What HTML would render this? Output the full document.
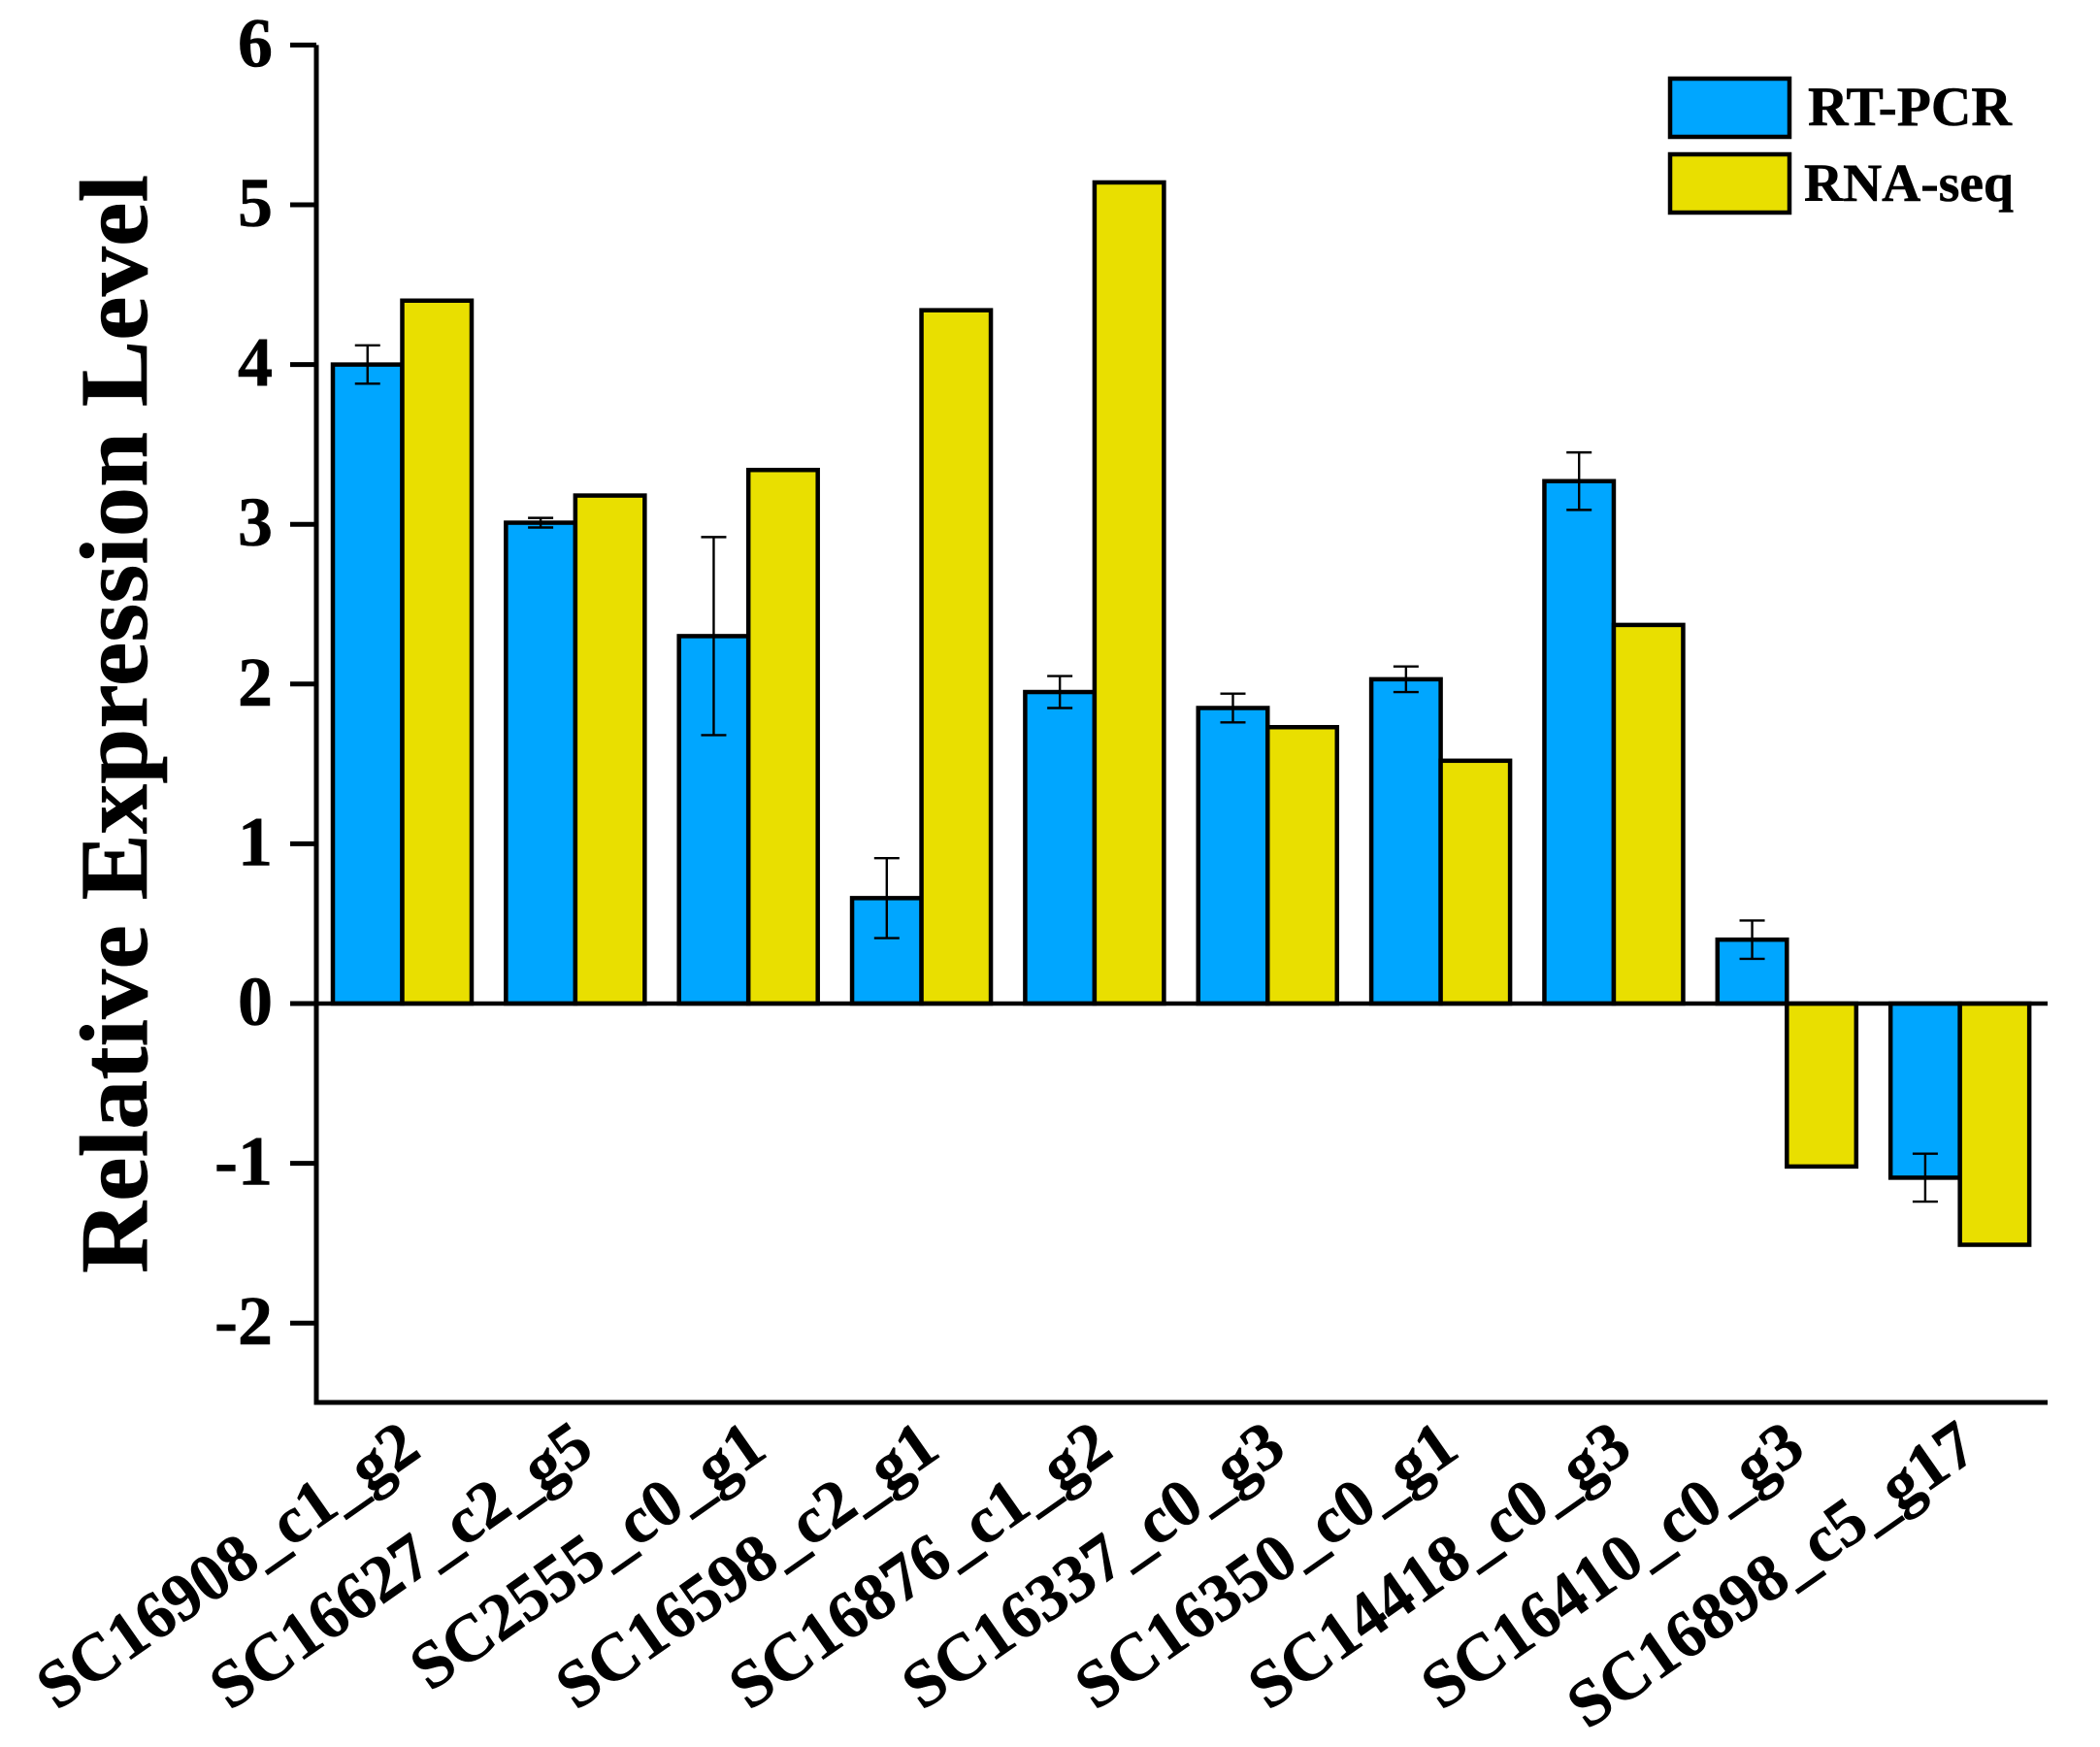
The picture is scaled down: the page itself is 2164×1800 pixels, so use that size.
<!DOCTYPE html>
<html lang="en">
<head>
<meta charset="utf-8">
<title>Relative Expression Level</title>
<style>
html,body{margin:0;padding:0;background:#fff;width:2164px;height:1800px;overflow:hidden}
svg{display:block}
text{font-family:"Liberation Serif",serif;font-weight:bold;fill:#000;stroke:#000;stroke-width:.6px}
</style>
</head>
<body>
<svg id="chart" xmlns="http://www.w3.org/2000/svg" width="2164" height="1800" viewBox="0 0 2164 1800">
<g id="bars"></g>
<g id="errors"></g>
<g id="axes"></g>
<text id="ytitle" transform="translate(151,746) rotate(-90)" text-anchor="middle" font-size="100" textLength="1132" lengthAdjust="spacingAndGlyphs">Relative Expression Level</text>
<g>
<rect x="1721" y="81" width="123" height="60" fill="#00a6ff" stroke="#000" stroke-width="4.5"/>
<text x="1863" y="129" font-size="57.5">RT-PCR</text>
<rect x="1721" y="159" width="123" height="60" fill="#e9df00" stroke="#000" stroke-width="4.5"/>
<text x="1859" y="207" font-size="55.5">RNA-seq</text>
</g>
</svg>
<script>
const categories = ["SC16908_c1_g2","SC16627_c2_g5","SC2555_c0_g1","SC16598_c2_g1","SC16876_c1_g2","SC16337_c0_g3","SC16350_c0_g1","SC14418_c0_g3","SC16410_c0_g3","SC16898_c5_g17"];
const rtPcr = [4.0,3.01,2.3,0.66,1.95,1.85,2.03,3.27,0.4,-1.09];
const rtPcrError = [0.12,0.03,0.62,0.25,0.1,0.09,0.08,0.18,0.12,0.15];
const rnaSeq = [4.4,3.18,3.34,4.34,5.14,1.73,1.52,2.37,-1.02,-1.51];
const yTicks = [6,5,4,3,2,1,0,-1,-2];

const NS = 'http://www.w3.org/2000/svg';
const y = v => 1034 - v * 164.6;
const groupX = i => 343 + i * 178.35;
const barW = 71.5;
const axisLeft = 326;
const axisRight = 2110;
const axisBottom = 1445;

function mk(tag, attrs, parent) {
  const el = document.createElementNS(NS, tag);
  for (const k in attrs) el.setAttribute(k, attrs[k]);
  parent.appendChild(el);
  return el;
}

const barsG = document.getElementById('bars');
const errG = document.getElementById('errors');
const axG = document.getElementById('axes');

function drawBar(value, x, fill, name) {
  const top = Math.min(y(value), y(0));
  const h = Math.abs(y(value) - y(0));
  const r = mk('rect', {x: x, y: top, width: barW, height: h, fill: fill, stroke: '#000', 'stroke-width': 4.5}, barsG);
  
  
}

categories.forEach((c, i) => {
  drawBar(rtPcr[i], groupX(i), '#00a6ff', 'bar-rt-pcr-' + c.toLowerCase());
  drawBar(rnaSeq[i], groupX(i) + barW, '#e9df00', 'bar-rna-seq-' + c.toLowerCase());
});

categories.forEach((c, i) => {
  const cx = groupX(i) + barW / 2;
  const hi = y(rtPcr[i] + rtPcrError[i]);
  const lo = y(rtPcr[i] - rtPcrError[i]);
  const g = mk('path', {d: 'M' + cx + ' ' + hi + 'V' + lo + 'M' + (cx - 13) + ' ' + hi + 'H' + (cx + 13) + 'M' + (cx - 13) + ' ' + lo + 'H' + (cx + 13), fill: 'none', stroke: '#000', 'stroke-width': 2.4}, errG);
  
  
});

const axisPath = mk('path', {d: 'M' + axisLeft + ' ' + y(yTicks[0]) + 'V' + axisBottom + 'H' + axisRight, fill: 'none', stroke: '#000', 'stroke-width': 5}, axG);



const zeroLine = mk('line', {x1: axisLeft, x2: axisRight, y1: y(0), y2: y(0), stroke: '#000', 'stroke-width': 4.5}, axG);



yTicks.forEach(t => {
  const tk = mk('line', {x1: axisLeft - 27, x2: axisLeft, y1: y(t), y2: y(t), stroke: '#000', 'stroke-width': 5}, axG);
  
  
  const lb = mk('text', {x: 281, y: y(t) + 22, 'text-anchor': 'end', 'font-size': 72}, axG);
  lb.textContent = t;
  
  
});

categories.forEach((c, i) => {
  const ex = groupX(i) + 93;
  const ey = 1499;
  const lb = mk('text', {'text-anchor': 'end', 'font-size': 68.5, transform: 'translate(' + ex + ',' + ey + ') rotate(-35)'}, axG);
  lb.textContent = c;
  
  
});
</script>
</body>
</html>
